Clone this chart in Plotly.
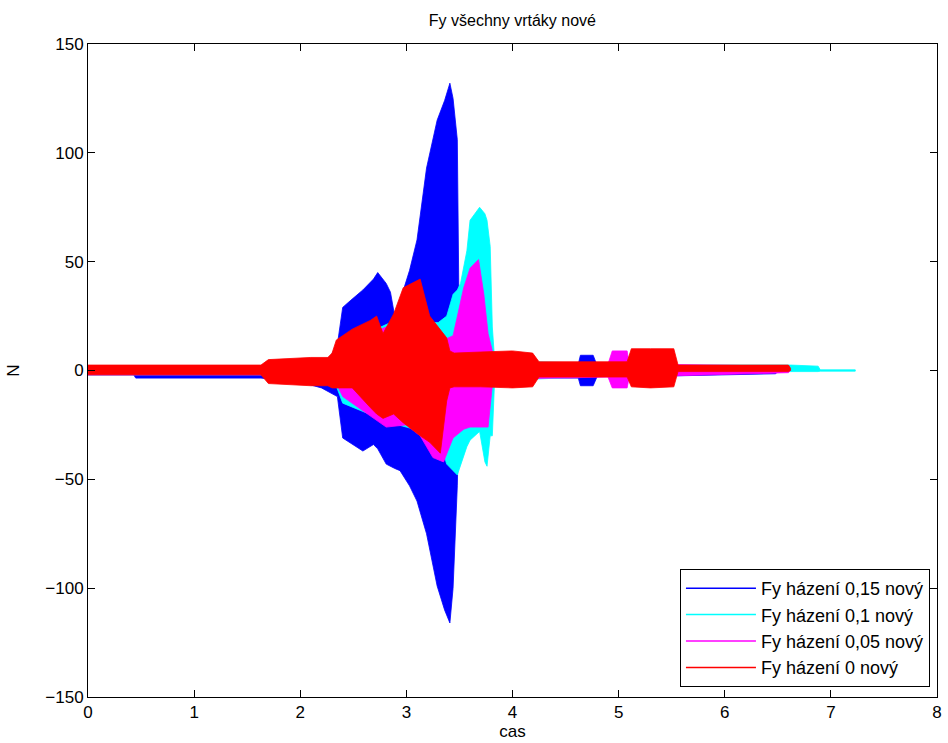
import plotly.graph_objects as go

# Envelope (upper / lower bound) of each force record, in N, against time
t_b = [0.00, 0.43, 0.45, 1.63, 2.05, 2.20, 2.28, 2.35, 2.40, 2.47, 2.59, 2.69, 2.73, 2.81, 2.85, 2.89, 2.94,
       3.03, 3.10, 3.19, 3.29, 3.36, 3.41, 3.44, 3.48, 3.50, 3.85, 4.20, 4.62, 4.64, 4.76, 4.80, 5.50, 6.48, 6.50]
hi_b = [2, 2, 2, 2, 3, 5, 6, 12, 29, 32, 37, 42, 45, 40, 36, 25, 32,
        46, 60, 93, 115, 124, 132, 125, 106, 8, 7, 3, 3, 7, 7, 2, 1.5, 1, 0]
lo_b = [-2, -2, -3.5, -3.5, -6, -8, -10, -12, -31, -33, -37, -34, -36, -43, -44, -45, -46,
        -53, -60, -75, -99, -110, -116, -100, -53, -8, -7, -3.5, -3.5, -7, -7, -2.5, -2.5, -1.5, -0.5]

t_c = [0.00, 2.30, 2.40, 2.85, 3.30, 3.38, 3.44, 3.48, 3.51, 3.57, 3.60, 3.69, 3.74, 3.76, 3.79, 3.81, 3.83,
       4.20, 5.50, 6.62, 6.88, 6.90, 7.23]
hi_c = [2, 2, 12, 22, 22, 25, 35, 37, 40, 55, 69, 75, 72, 69, 57, 20, 6,
        4, 2.5, 2.5, 2, 0.3, 0.3]
lo_c = [-2, -2, -15, -24, -30, -43, -46, -48, -44, -35, -32, -28, -42, -44, -30, -30, -6,
        -4, -1, -0.5, -0.5, -0.3, -0.3]

t_m = [0.00, 2.30, 2.40, 2.81, 3.00, 3.13, 3.25, 3.35, 3.44, 3.54, 3.60, 3.68, 3.73, 3.77, 3.81, 3.83,
       4.90, 4.94, 5.08, 5.10, 6.60, 6.62]
hi_m = [2, 2, 12, 20, 25, 25, 22, 14, 16, 38, 47, 51, 35, 17, 9, 4,
        3, 9, 9, 3, 2, 0]
lo_m = [-2, -2, -12, -26, -25, -30, -40, -42, -31, -27, -26, -26, -26, -26, -7, -4,
        -3, -8, -8, -3, -1, 0]

t_r = [0.00, 1.63, 1.70, 2.10, 2.26, 2.30, 2.34, 2.49, 2.66, 2.72, 2.78, 2.88, 2.97, 3.13, 3.22,
       3.32, 3.38, 3.41, 3.45, 3.70, 4.00, 4.19, 4.25, 5.08, 5.12, 5.30, 5.52, 5.56, 6.60, 6.62]
hi_r = [2.5, 2.5, 5, 6, 6, 8, 14, 19, 23, 25, 17, 26, 38, 42, 25,
        19, 15, 9, 8, 8.5, 9, 8, 4, 4, 10, 10, 10, 2.5, 2.5, 1]
lo_r = [-2, -2, -6, -7, -7, -8, -8, -8, -17, -20, -22, -20, -24, -30, -33,
        -38, -14, -8, -7.5, -7.5, -8, -7.5, -3, -3, -7.5, -8, -7.5, -0.5, -0.5, 0]

series = [
    ("Fy házení 0,15 nový", "#0000FF", t_b, hi_b, lo_b),
    ("Fy házení 0,1 nový", "#00FFFF", t_c, hi_c, lo_c),
    ("Fy házení 0,05 nový", "#FF00FF", t_m, hi_m, lo_m),
    ("Fy házení 0 nový", "#FF0000", t_r, hi_r, lo_r),
]

x_ticks = list(range(0, 9))
y_ticks = [-150, -100, -50, 0, 50, 100, 150]

FONT = "Liberation Sans Narrow, Liberation Sans, Arial, sans-serif"

fig = go.Figure()
for name, color, t, hi, lo in series:
    fig.add_trace(go.Scatter(
        x=t + t[::-1], y=hi + lo[::-1],
        mode="lines", fill="toself", fillcolor=color,
        line=dict(color=color, width=0.8),
        hoverinfo="skip", showlegend=False,
    ))
for name, color, *_ in series:
    fig.add_trace(go.Scatter(
        x=[None], y=[None], mode="lines", name=name,
        line=dict(color=color, width=1.5),
    ))

axis_common = dict(
    showline=True, linecolor="black", linewidth=1, mirror="ticks",
    ticks="inside", ticklen=7, tickcolor="black", showgrid=False, zeroline=False,
    automargin=False,
    tickfont=dict(family=FONT, size=17, color="black"),
)

fig.update_layout(
    width=948, height=743,
    margin=dict(l=88, r=11, t=44, b=46),
    paper_bgcolor="white", plot_bgcolor="white",
    title=dict(text="Fy všechny vrtáky nové", x=0.5405, xanchor="center", y=0.973, yanchor="middle",
               font=dict(family=FONT, size=16, color="black")),
    xaxis=dict(range=[0, 8], tickvals=x_ticks,
               title=dict(text="cas", standoff=0, font=dict(family=FONT, size=17, color="black")),
               **axis_common),
    yaxis=dict(range=[-150, 150], tickvals=y_ticks,
               title=dict(text="N", standoff=21, font=dict(family=FONT, size=17, color="black")),
               **axis_common),
    legend=dict(x=0.9917, y=0.0153, xanchor="right", yanchor="bottom",
                bgcolor="white", bordercolor="black", borderwidth=1,
                font=dict(family="Liberation Sans, Arial, sans-serif", size=18, color="black"),
                tracegroupgap=0, itemwidth=70),
    showlegend=True,
)

fig.write_html("out.html")
